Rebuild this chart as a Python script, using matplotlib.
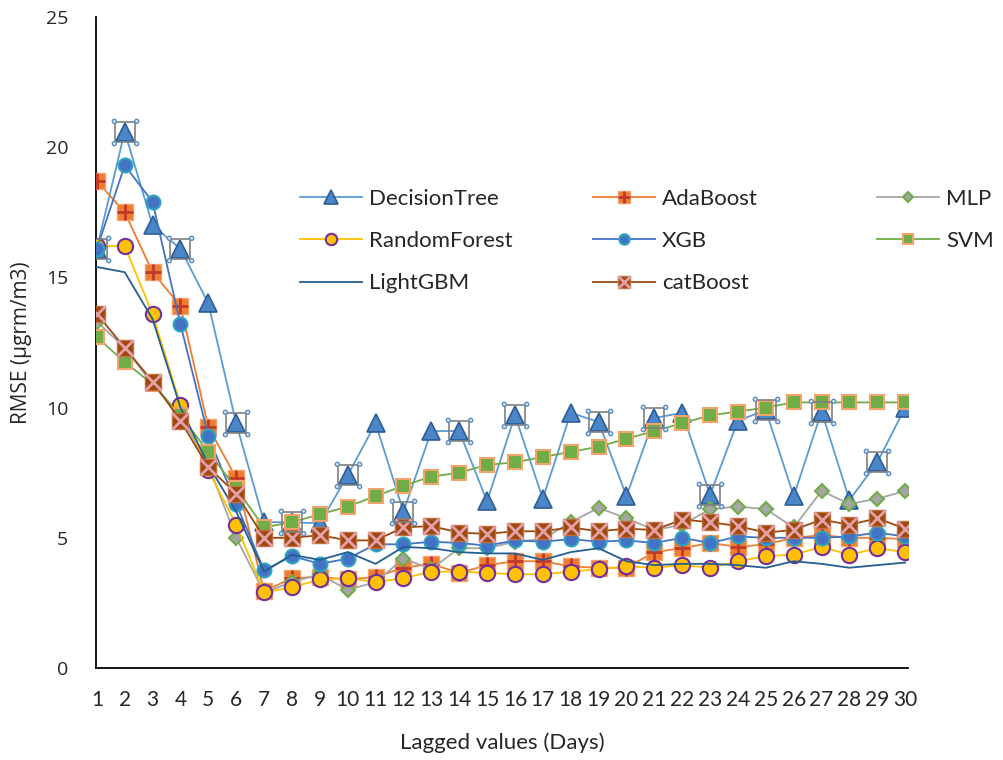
import numpy as np
import matplotlib
matplotlib.use("Agg")
import matplotlib.pyplot as plt
from matplotlib.path import Path
from matplotlib.legend_handler import HandlerTuple

plt.rcParams['font.family'] = ['Lato', 'DejaVu Sans']

days = list(range(1, 31))

decision_tree = [16.1, 20.6, 17.0, 16.1, 14.0, 9.4, 5.6, 5.6, 5.55, 7.4,
                 9.4, 6.0, 9.1, 9.1, 6.4, 9.7, 6.5, 9.8, 9.45, 6.6,
                 9.6, 9.8, 6.65, 9.5, 9.9, 6.6, 9.85, 6.45, 7.9, 10.0]
adaboost = [18.7, 17.5, 15.2, 13.9, 9.25, 7.3, 2.95, 3.45, 3.5, 3.4,
            3.5, 3.85, 4.0, 3.65, 3.95, 4.1, 4.1, 3.9, 3.85, 3.85,
            4.45, 4.6, 4.8, 4.65, 4.75, 5.0, 5.1, 5.0, 5.0, 4.95]
mlp = [13.3, 12.3, 10.9, 9.7, 7.8, 5.0, 2.9, 3.3, 3.6, 3.0,
       3.3, 4.2, 3.8, 4.6, 4.6, 4.85, 4.95, 5.6, 6.15, 5.75,
       5.3, 5.5, 6.1, 6.2, 6.1, 5.4, 6.8, 6.3, 6.5, 6.8]
random_forest = [16.2, 16.2, 13.6, 10.1, 7.6, 5.5, 2.9, 3.1, 3.4, 3.45,
                 3.3, 3.45, 3.7, 3.7, 3.65, 3.6, 3.6, 3.7, 3.8, 3.9,
                 3.85, 3.95, 3.85, 4.1, 4.3, 4.35, 4.65, 4.35, 4.6, 4.45]
xgb = [16.1, 19.3, 17.9, 13.2, 8.9, 6.3, 3.75, 4.3, 4.0, 4.2,
       4.75, 4.75, 4.85, 4.8, 4.7, 4.9, 4.85, 4.95, 4.85, 4.9,
       4.8, 5.0, 4.8, 5.05, 5.0, 5.0, 5.0, 5.05, 5.2, 5.05]
svm = [12.7, 11.75, 10.9, 9.7, 8.3, 6.9, 5.4, 5.6, 5.9, 6.2,
       6.6, 7.0, 7.35, 7.5, 7.8, 7.9, 8.1, 8.3, 8.5, 8.8,
       9.1, 9.4, 9.7, 9.85, 10.0, 10.2, 10.2, 10.2, 10.2, 10.2]
lightgbm = [15.4, 15.2, 13.4, 10.0, 7.8, 6.0, 3.7, 4.35, 4.15, 4.45,
            4.0, 4.65, 4.6, 4.45, 4.4, 4.4, 4.15, 4.45, 4.6, 4.1,
            3.95, 4.0, 4.0, 3.95, 3.85, 4.1, 4.0, 3.85, 3.95, 4.05]
catboost = [13.6, 12.3, 11.0, 9.5, 7.7, 6.7, 5.0, 5.0, 5.1, 4.9,
            4.9, 5.4, 5.45, 5.2, 5.15, 5.25, 5.25, 5.4, 5.25, 5.35,
            5.3, 5.7, 5.6, 5.45, 5.2, 5.3, 5.7, 5.5, 5.75, 5.35]

# points of the DecisionTree series showing Excel selection handles
selected = [1, 2, 4, 6, 8, 10, 12, 14, 16, 19, 21, 23, 25, 27, 29]

fig = plt.figure(figsize=(10.04, 7.6), dpi=100)
ax = fig.add_axes([96 / 1004, 92 / 760, (908 - 96) / 1004, (668 - 17) / 760])

lw = 1.3
dt, = ax.plot(days, decision_tree, color='#5B9BD5', lw=lw, marker='^', ms=13,
              mfc='#4A86C8', mec='#2E5C94', mew=1.2, zorder=3)
ada_sq, = ax.plot(days, adaboost, color='#ED7D31', lw=lw, marker='s', ms=11,
                  mfc='#ED7D31', mec='#F4A36B', mew=1, zorder=3)
ada_pl, = ax.plot(days, adaboost, ls='none', marker='+', ms=11,
                  mec='#C0392B', mew=2, zorder=3)
ml, = ax.plot(days, mlp, color='#A5A5A5', lw=lw, marker='D', ms=7,
              mfc='#A5A5A5', mec='#70AD47', mew=1.5, zorder=3)
rf, = ax.plot(days, random_forest, color='#FFC000', lw=lw, marker='o', ms=11,
              mfc='#FFC000', mec='#7030A0', mew=1.5, zorder=3)
xg, = ax.plot(days, xgb, color='#4472C4', lw=lw, marker='o', ms=10,
              mfc='#4472C4', mec='#2EA3C0', mew=1.5, zorder=3)
sv, = ax.plot(days, svm, color='#70AD47', lw=lw, marker='s', ms=10,
              mfc='#70AD47', mec='#F4A36B', mew=1.5, zorder=3)
lg, = ax.plot(days, lightgbm, color='#255E91', lw=lw, zorder=3)
cb_sq, = ax.plot(days, catboost, color='#9E480E', lw=lw, marker='s', ms=12,
                 mfc='#9E480E', mec='#C0703F', mew=1, zorder=3)
cb_x, = ax.plot(days, catboost, ls='none', marker='x', ms=11,
                mec='#E4A0A8', mew=2, zorder=3)

# selection handles on DecisionTree
sel_y = [decision_tree[d - 1] for d in selected]
ax.plot(selected, sel_y, ls='none', marker='s', ms=15, mfc='none',
        mec='#7F7F7F', mew=1.2, zorder=4)
circ = Path.unit_circle()
parts = []
for cx, cy in [(-1, -1), (-1, 1), (1, -1), (1, 1)]:
    parts.append(Path(circ.vertices * 0.18 + np.array([cx, cy]), circ.codes))
handles_path = Path.make_compound_path(*parts)
ax.plot(selected, sel_y, ls='none', marker=handles_path, ms=19,
        mfc='#DCE9F5', mec='#5B8DC0', mew=1, zorder=5)

ax.set_xlim(0.97, 30.1)
ax.set_ylim(0, 25)
ax.set_xticks(days)
ax.set_xticklabels([str(d) for d in days])
ax.set_yticks([0, 5, 10, 15, 20, 25])
ax.tick_params(axis='x', length=0, pad=16, labelsize=15, colors='#262626')
ax.tick_params(axis='y', length=0, pad=20, labelsize=14, colors='#262626')
for lab in ax.get_yticklabels():
    lab.set_family(['Open Sans', 'DejaVu Sans'])
for s in ['top', 'right']:
    ax.spines[s].set_visible(False)
for s in ['left', 'bottom']:
    ax.spines[s].set_color('black')
    ax.spines[s].set_linewidth(1.3)

ax.set_xlabel('Lagged values (Days)', fontsize=16, labelpad=16, color='#262626')
ax.set_ylabel('RMSE (µgrm/m3)', fontsize=15, labelpad=10, color='#262626',
              family=['Open Sans', 'DejaVu Sans'])

# legend in three columns, each placed by hand like Excel
cols = [
    ([dt, rf, lg], ['DecisionTree', 'RandomForest', 'LightGBM'], 300),
    ([(ada_sq, ada_pl), xg, (cb_sq, cb_x)], ['AdaBoost', 'XGB', 'catBoost'], 593),
    ([ml, sv], ['MLP', 'SVM'], 877),
]
for hs, labels, xpix in cols:
    leg = fig.legend(hs, labels, loc='upper left',
                     bbox_to_anchor=(xpix / 1004, 1 - 189 / 760),
                     frameon=False, fontsize=16, handlelength=2.8,
                     handletextpad=0.3, labelspacing=1.0, borderpad=0,
                     borderaxespad=0, markerscale=0.75,
                     handler_map={tuple: HandlerTuple(ndivide=1)})
    for t in leg.get_texts():
        t.set_color('#262626')

fig.savefig('out.png', dpi=100)
